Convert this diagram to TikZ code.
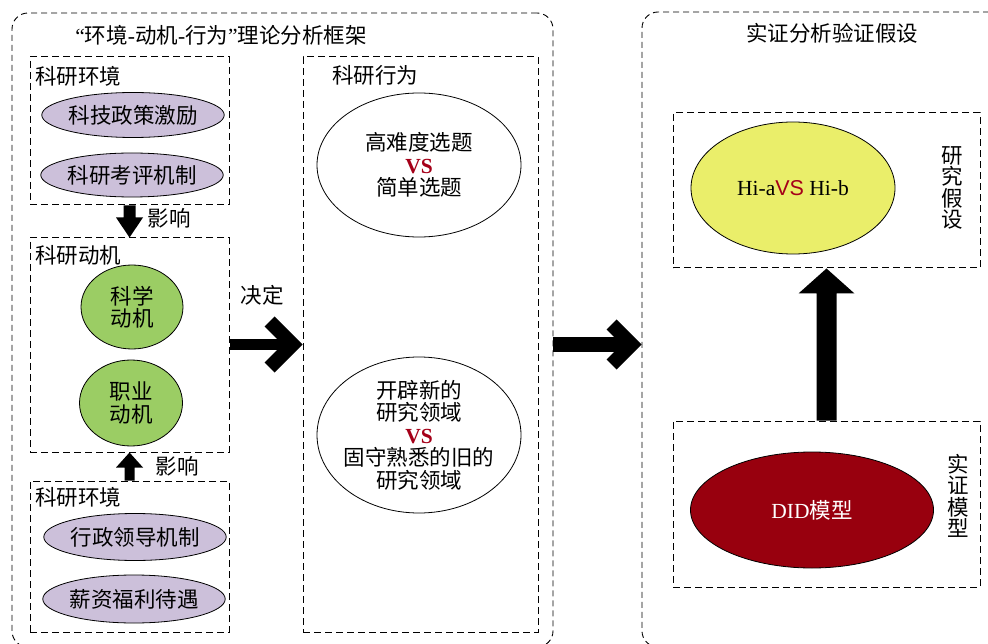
\documentclass[tikz,border=0pt]{standalone}
\usepackage{fontspec}
\setmainfont{Liberation Serif}
\newfontfamily\cjk{Noto Sans CJK SC}
\newfontfamily\sansfam{Liberation Sans}
\usetikzlibrary{shapes.geometric,calc}
\definecolor{lav}{RGB}{204,192,218}
\definecolor{grn}{RGB}{155,205,100}
\definecolor{yel}{RGB}{234,238,106}
\definecolor{dred}{RGB}{152,0,14}
\definecolor{vsred}{RGB}{165,0,25}
\begin{document}
\begin{tikzpicture}[x=1pt,y=-1pt,
  every node/.style={inner sep=0pt, font={\cjk\fontsize{21.5pt}{21pt}\selectfont}},
  frame/.style={draw, line width=0.9pt, dash pattern=on 6pt off 4pt, rounded corners=16pt},
  dbox/.style={draw, line width=1pt, dash pattern=on 7pt off 4pt},
  ell/.style={ellipse, draw, line width=0.8pt, align=center},
  multi/.style={font={\cjk\fontsize{21.5pt}{22.5pt}\selectfont}},
  lbl/.style={anchor=west},
  vlbl/.style={align=center, font={\cjk\fontsize{21.5pt}{21.5pt}\selectfont}}]
\useasboundingbox (0,0) rectangle (988,644);
\clip (0,0) rectangle (988,644);
\fill[white] (0,0) rectangle (988,644);

% outer frames
\node[frame, minimum width=541pt, minimum height=634pt] (lf) at (282.5,330) {};
\node[frame, minimum width=363pt, minimum height=635pt] (rf) at (823.5,329.5) {};
\node (t1) at (221,35) {{\rmfamily “}环境{\rmfamily -}动机{\rmfamily -}行为{\rmfamily ”}理论分析框架};
\node (t2) at (832,33) {实证分析验证假设};

% left boxes
\node[dbox, minimum width=199pt, minimum height=148pt] (env1) at (129.5,131) {};
\node[lbl] (env1l) at (35,76) {科研环境};
\node[ell, fill=lav, minimum width=176pt, minimum height=45pt] (e11) at (133,115) {科技政策激励};
\node[ell, fill=lav, minimum width=176pt, minimum height=44pt] (e12) at (132,175) {科研考评机制};

\node[dbox, minimum width=199pt, minimum height=214pt] (mot) at (129.5,345) {};
\node[lbl] (motl) at (35,255) {科研动机};
\node[ell, fill=grn, multi, minimum width=102pt, minimum height=84pt] (m1) at (132,307) {科学\\动机};
\node[ell, fill=grn, multi, minimum width=103pt, minimum height=86pt] (m2) at (131,403) {职业\\动机};

\node[dbox, minimum width=199pt, minimum height=151pt] (env2) at (129.5,556.5) {};
\node[lbl] (env2l) at (35,497) {科研环境};
\node[ell, fill=lav, minimum width=175pt, minimum height=47pt] (e21) at (135,537) {行政领导机制};
\node[ell, fill=lav, minimum width=175pt, minimum height=48pt] (e22) at (134,599) {薪资福利待遇};

% behaviour box
\node[dbox, minimum width=235pt, minimum height=575pt] (beh) at (420.5,344.5) {};
\node[lbl] (behl) at (332,75) {科研行为};
\node[ell, fill=white, multi, minimum width=204pt, minimum height=144pt] (b1) at (419,165)
  {高难度选题\\{\rmfamily\bfseries\color{vsred}VS}\\简单选题};
\node[ell, fill=white, multi, inner xsep=-6pt, inner ysep=-4pt, minimum width=204pt, minimum height=156pt] (b2) at (419,435)
  {开辟新的\\研究领域\\{\rmfamily\bfseries\color{vsred}VS}\\固守熟悉的旧的\\研究领域};

% right boxes
\node[dbox, minimum width=307pt, minimum height=155pt] (hyp) at (826.5,190.5) {};
\node[ell, fill=yel, minimum width=204pt, minimum height=132pt] (h1) at (793,188)
  {{\rmfamily Hi-a}{\sansfam\color{vsred}VS}{\rmfamily\ Hi-b}};
\node[vlbl] (hypl) at (952.5,188) {研\\究\\假\\设};

\node[dbox, minimum width=307pt, minimum height=166pt] (mod) at (826.5,504) {};
\node[ell, fill=dred, minimum width=243pt, minimum height=116pt, text=white] (d1) at (812,510)
  {{\rmfamily DID}模型};
\node[vlbl] (modl) at (958,496) {实\\证\\模\\型};

% labels on arrows
\node (inf1) at (169,218) {影响};
\node (inf2) at (177,466) {影响};
\node (dec) at (262,295) {决定};

% arrows
\fill ($(env1.south)+(-6,0)$) -- ($(mot.north)+(-6,-20)$) -- ($(mot.north)+(-13.5,-20)$) -- (mot.north)
  -- ($(mot.north)+(13.5,-20)$) -- ($(mot.north)+(6,-20)$) -- ($(env1.south)+(6,0)$) -- cycle;
\fill ($(env2.north)+(-5,0)$) -- ($(mot.south)+(-5,15)$) -- ($(mot.south)+(-13.5,15)$) -- (mot.south)
  -- ($(mot.south)+(13.5,15)$) -- ($(mot.south)+(5,15)$) -- ($(env2.north)+(5,0)$) -- cycle;

\fill ($(mot.east)+(0,-5.5)$) rectangle ($(beh.west)+(-18,5.5)$);
\fill[shift={(beh.west)}] (0,0) -- (-28,-28) -- (-38,-18) -- (-20,0) -- (-38,18) -- (-28,28) -- cycle;

\coordinate (bigs) at (lf.east |- beh.west);
\coordinate (bigt) at (rf.west |- beh.west);
\fill ($(bigs)+(0,-7)$) rectangle ($(bigt)+(-20,7)$);
\fill[shift={(bigt)}] (0,0) -- (-25,-25) -- (-35,-15) -- (-20,0) -- (-35,15) -- (-25,25) -- cycle;

\fill ($(mod.north)+(-10,0)$) -- ($(hyp.south)+(-10,25)$) -- ($(hyp.south)+(-28,25)$) -- (hyp.south)
  -- ($(hyp.south)+(28,25)$) -- ($(hyp.south)+(10,25)$) -- ($(mod.north)+(10,0)$) -- cycle;
\end{tikzpicture}
\end{document}
